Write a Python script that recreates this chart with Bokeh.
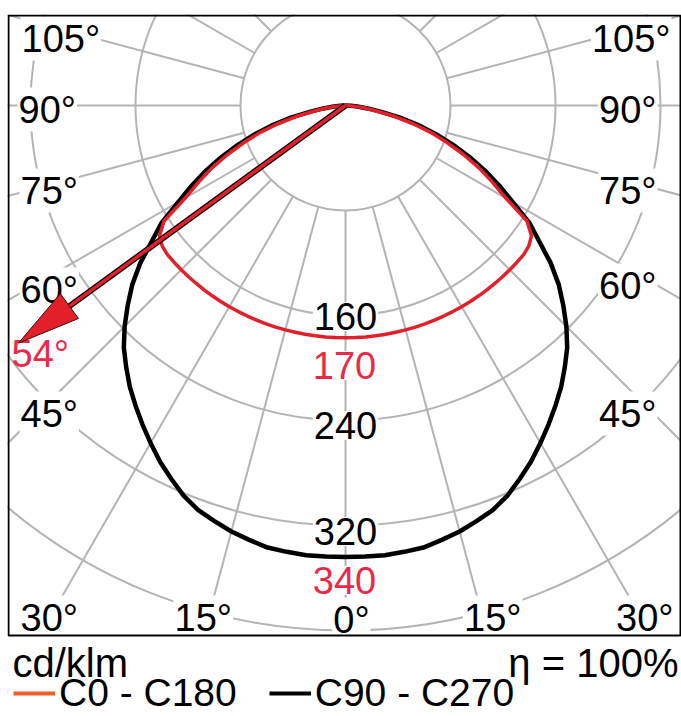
import numpy as np
from bokeh.plotting import figure
from bokeh.models import Range1d, Label, Legend, LegendItem, BoxAnnotation
from bokeh.embed import file_html
from bokeh.resources import INLINE

# ---------------- data ----------------
angles = [0, 2.5, 5, 7.5, 10, 12.5, 15, 17.5, 20, 22.5, 25, 27.5, 30, 32.5, 35, 37.5, 40, 42.5,
          45, 47.5, 50, 52.5, 55, 57.5, 60, 62.5, 65, 67.5, 70, 72.5, 75, 77.5, 80, 82.5, 85, 87.5, 90]
c0_c180 = [177, 177, 177, 177, 177, 177, 177, 177, 177, 177, 177, 177, 177, 177, 177, 177, 177, 177,
           177, 177, 177, 176, 173, 164, 141, 126, 112, 97, 82, 68, 53, 38, 24, 15, 8, 3, 0]
c90_c270 = [344, 344, 344, 343, 342, 339, 336, 332, 328, 322, 314, 306, 297, 288, 279, 270, 260, 250,
            238, 225, 212, 197, 180, 166, 147, 132, 117, 102, 87, 72, 57, 42, 27, 17, 9, 4, 0]
ring_values = [80, 160, 240, 320, 400]
ring_label_values = ["160", "240", "320"]
red_label_values = ["170", "340"]
spoke_angles = list(range(0, 360, 15))
angle_tick_labels = ["0°", "15°", "30°", "45°", "60°", "75°", "90°", "105°"]
arrow_angle = 54
arrow_value = 308
arrow_label = "54°"
unit_text = "cd/klm"
eta_text = "η = 100%"
legend_labels = ["C0 - C180", "C90 - C270"]

# ---------------- styling / layout ----------------
W, H = 681, 716
S = 1.3125            # px per cd/klm
OX, OY = 345, 105     # pixel of the pole
FL, FR, FT, FB = 8, 680, 15, 635   # drawn frame box in pixels
CL, CT = 7, 14        # plotting-area (clip) left / top in pixels
RED = "#e3202a"
RED_TXT = "#ea2a48"
LEG_RED = "#f0602a"
GRID = "#b4b4b4"
FONT = "Liberation Sans"
FS = "38px"
FS_BOTTOM = "40px"
FS_LEGEND = "39px"


def dx(px):
    return (px - OX) / S


def dy(py):
    return (OY - py) / S


p = figure(width=W, height=H, output_backend="svg", toolbar_location=None,
           x_range=Range1d(dx(CL), dx(W)), y_range=Range1d(dy(H), dy(CT)),
           x_axis_type=None, y_axis_type=None, min_border=0,
           min_border_left=CL, min_border_right=0, min_border_top=CT, min_border_bottom=0)
p.grid.visible = False
p.outline_line_color = None
p.background_fill_color = "white"
p.border_fill_color = "white"

# rings
p.circle(x=[0] * len(ring_values), y=[0] * len(ring_values), radius=ring_values,
         fill_color=None, line_color=GRID, line_width=2)

# spokes
sa = np.radians(spoke_angles)
p.segment(x0=80 * np.sin(sa), y0=-80 * np.cos(sa), x1=800 * np.sin(sa), y1=-800 * np.cos(sa),
          line_color=GRID, line_width=2)


def curve(values):
    th = np.radians(np.array(angles, dtype=float))
    r = np.array(values, dtype=float)
    xl = -r * np.sin(th)
    yl = -r * np.cos(th)
    xr = r * np.sin(th)
    x = np.concatenate([xl[::-1], xr[1:]])
    y = np.concatenate([yl[::-1], yl[1:]])
    return x, y


bx, by = curve(c90_c270)
p.line(bx, by, line_color="black", line_width=4.5, line_join="round")
rx, ry = curve(c0_c180)
p.line(rx, ry, line_color=RED, line_width=3.5, line_join="round")

# legend sample renderers (zero-length, invisible in the plot)
lr = p.line([0, 0], [0, 0], line_color=LEG_RED, line_width=4)
lb = p.line([0, 0], [0, 0], line_color="black", line_width=4)

# white mask below the drawn frame (the text area)
p.add_layout(BoxAnnotation(left=dx(-20), right=dx(W + 20), top=dy(FB), bottom=dy(H + 20),
                           fill_color="white", fill_alpha=1, line_color=None, level="annotation"))


def lab(text, px, py, align="left", color="black", bg="white", size=FS):
    p.add_layout(Label(x=dx(px), y=dy(py), text=text, text_align=align, text_baseline="middle",
                       text_font=FONT, text_font_size=size, text_color=color,
                       background_fill_color=bg, padding=1))


# angle labels
left_pos = {"105°": (20, 38), "90°": (17, 109), "75°": (19, 190), "60°": (19, 289),
            "45°": (19, 413), "30°": (19, 617), "15°": (173, 617)}
right_pos = {"105°": (671, 38), "90°": (657, 109), "75°": (657, 190), "60°": (657, 285),
             "45°": (657, 413), "30°": (674, 617), "15°": (522, 617)}
for t in angle_tick_labels:
    if t == "0°":
        lab(t, 351, 619, align="center")
        continue
    lx, ly = left_pos[t]
    lab(t, lx, ly)
    rxp, ryp = right_pos[t]
    lab(t, rxp, ryp, align="right")

# ring labels
for t, py in zip(ring_label_values, [316, 425, 531]):
    lab(t, 345, py, align="center")
for t, py in zip(red_label_values, [365, 580]):
    lab(t, 344, py, align="center", color=RED_TXT)
lab(arrow_label, 10, 353, color=RED_TXT, bg=None)

# frame drawn above everything
p.add_layout(BoxAnnotation(left=dx(FL), right=dx(FR), top=dy(FT), bottom=dy(FB),
                           fill_alpha=0, line_color="black", line_width=2, line_alpha=1,
                           level="overlay"))

# arrow (54°) from the pole, drawn above the labels
a = np.radians(arrow_angle)
ux, uy = -np.sin(a), -np.cos(a)
tipx, tipy = arrow_value * ux, arrow_value * uy
head_len, head_half = 48.0, 11.7
bxm, bym = tipx - ux * head_len, tipy - uy * head_len
nx, ny = -uy, ux
p.segment(x0=[0], y0=[0], x1=[bxm], y1=[bym], line_color="black", line_width=6, level="overlay")
p.segment(x0=[0], y0=[0], x1=[bxm], y1=[bym], line_color=RED, line_width=3.5, level="overlay")
p.patch([tipx, bxm + nx * head_half, bxm - nx * head_half],
        [tipy, bym + ny * head_half, bym - ny * head_half],
        fill_color=RED, line_color="#3a0a0a", line_width=1, level="overlay")

# texts below the frame
lab(unit_text, 11, 662, bg=None, size=FS_BOTTOM)
lab(eta_text, 679, 662, align="right", bg=None, size=FS_BOTTOM)

legend = Legend(items=[LegendItem(label=legend_labels[0], renderers=[lr]),
                       LegendItem(label=legend_labels[1], renderers=[lb])],
                orientation="horizontal", location=(13 - CL, 1), padding=0, margin=0,
                spacing=32, glyph_width=42, glyph_height=30, label_height=30, label_standoff=4,
                label_text_font=FONT, label_text_font_size=FS_LEGEND, label_text_color="black",
                border_line_color=None, background_fill_alpha=0)
p.add_layout(legend)

open("out.html", "w").write(file_html(p, INLINE))
